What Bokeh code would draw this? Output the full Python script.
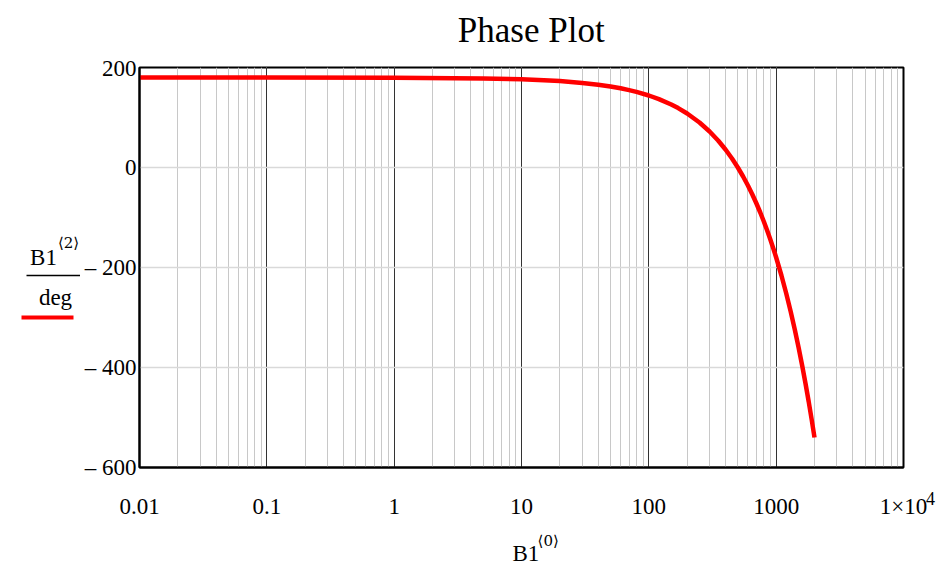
from bokeh.plotting import figure
from bokeh.models import (Range1d, FixedTicker, LogTicker, CustomJSTickFormatter,
                          Label)
from bokeh.layouts import row, column
from bokeh.core.properties import value
from bokeh.embed import file_html
from bokeh.resources import INLINE

# ---- data ----
freq = [0.01, 0.1, 1, 5, 10, 15, 20, 30, 40, 50, 60, 70, 80, 100, 120, 150, 170,
        200, 250, 300, 350, 400, 450, 500, 550, 600, 650, 700, 750, 800, 850,
        900, 950, 1000, 1100, 1200, 1300, 1400, 1500, 1600, 1700, 1800, 1900,
        2000]
phase = [180, 180, 179.6, 178.2, 176.4, 174.6, 172.8, 169.2, 165.6, 162, 158.4,
         154.8, 151.2, 144, 136.8, 126, 118.8, 108, 90, 72, 54, 36, 18, 0, -18,
         -36, -54, -72, -90, -108, -126, -144, -162, -180, -216, -252, -288,
         -324, -360, -396, -432, -468, -504, -540]
y_ticks = [-600, -400, -200, 0, 200]
x_ticks = [0.01, 0.1, 1, 10, 100, 1000, 10000]
title_text = "Phase Plot"

FONT = "Liberation Serif"
TOTAL_H = 570
LEFT_W = 80          # strip holding the y label
TOP_H = 55           # strip holding the title
MAIN_W, MAIN_H = 860, 475
BOTTOM_H = TOTAL_H - TOP_H - MAIN_H
FL, FR, FT, FB = 59, 823, 12, 412  # frame edges inside the main figure

# ---------------- main plot ----------------
p = figure(width=MAIN_W, height=MAIN_H, x_axis_type="log", output_backend="svg",
           toolbar_location=None,
           x_range=Range1d(0.01, 10000), y_range=Range1d(-600, 200),
           min_border_left=FL, min_border_right=MAIN_W - FR,
           min_border_top=FT, min_border_bottom=MAIN_H - FB)

p.background_fill_color = "white"
p.border_fill_color = "white"
p.outline_line_color = "black"
p.outline_line_width = 2

for ax in (p.xaxis[0], p.yaxis[0]):
    ax.axis_line_color = "black"
    ax.axis_line_width = 2
    ax.major_tick_out = 0
    ax.major_tick_in = 0
    ax.minor_tick_out = 0
    ax.minor_tick_in = 0
    ax.major_label_text_font = FONT
    ax.major_label_text_font_size = "23px"
    ax.major_label_text_color = "black"

p.yaxis.ticker = FixedTicker(ticks=y_ticks)
p.yaxis.formatter = CustomJSTickFormatter(code="""
    return tick < 0 ? '\u2013 ' + Math.abs(tick) : String(tick);
""")
p.yaxis.major_label_standoff = 3

p.xaxis.ticker = LogTicker(desired_num_ticks=len(x_ticks), num_minor_ticks=10)
p.xaxis.formatter = CustomJSTickFormatter(code="""
    const e = Math.round(Math.log10(tick));
    const m = {'-2':'0.01','-1':'0.1','0':'1','1':'10','2':'100','3':'1000','4':'1\u00d710'};
    return m[String(e)];
""")
p.xaxis.major_label_standoff = 26

p.xgrid.grid_line_color = "#333333"
p.xgrid.grid_line_width = 1
p.xgrid.minor_grid_line_color = "#c8c8c8"
p.xgrid.minor_grid_line_width = 1
p.ygrid.ticker = FixedTicker(ticks=y_ticks)
p.ygrid.grid_line_color = "#d9d9d9"
p.ygrid.grid_line_width = 1.5

p.line(freq, phase, line_color="red", line_width=4.5)

# exponent of the last x tick label (1x10^4)
p.add_layout(Label(x=850, y=443, x_units="canvas", y_units="canvas", text="4",
                   text_font=FONT, text_font_size="18px", text_color="black",
                   text_align="center", text_baseline="middle"), "right")

# ---------------- helper strips for the title and axis titles ----------------
def strip(w, h):
    f = figure(width=w, height=h, output_backend="svg", toolbar_location=None,
               x_range=Range1d(0, w), y_range=Range1d(h, 0),
               min_border=0, x_axis_location=None, y_axis_location=None)
    f.grid.visible = False
    f.outline_line_color = None
    f.background_fill_color = "white"
    f.border_fill_color = "white"
    return f

# title, centred over the frame
top = strip(MAIN_W, TOP_H)
top.text(x=[(FL + FR) / 2], y=[30], text=[title_text], text_font=value(FONT),
         text_font_size="35px", text_color="black", text_align="center",
         text_baseline="middle")

# y axis title: B1<2> over deg, with the red legend line underneath
left = strip(LEFT_W, TOTAL_H)
left.text(x=[43, 55], y=[257, 297], text=["B1", "deg"], text_font=value(FONT),
          text_font_size="23px", text_color="black", text_align="center",
          text_baseline="middle")
left.text(x=[68], y=[242], text=["\u27e82\u27e9"], text_font=value("DejaVu Serif"),
          text_font_size="15px", text_color="black", text_align="center",
          text_baseline="middle")
left.segment(x0=[26], y0=[275], x1=[LEFT_W], y1=[275], line_color="black",
             line_width=1.5)
left.segment(x0=[21], y0=[317], x1=[73], y1=[317], line_color="red",
             line_width=4)

# x axis title: B1<0>
bottom = strip(MAIN_W, BOTTOM_H)
bottom.text(x=[435], y=[23], text=["B1"], text_font=value(FONT),
            text_font_size="23px", text_color="black", text_align="center",
            text_baseline="middle")
bottom.text(x=[460], y=[10], text=["\u27e80\u27e9"], text_font=value("DejaVu Serif"),
            text_font_size="15px", text_color="black", text_align="center",
            text_baseline="middle")

layout = row(left, column(top, p, bottom, spacing=0), spacing=0)
open("out.html", "w").write(file_html(layout, INLINE))
